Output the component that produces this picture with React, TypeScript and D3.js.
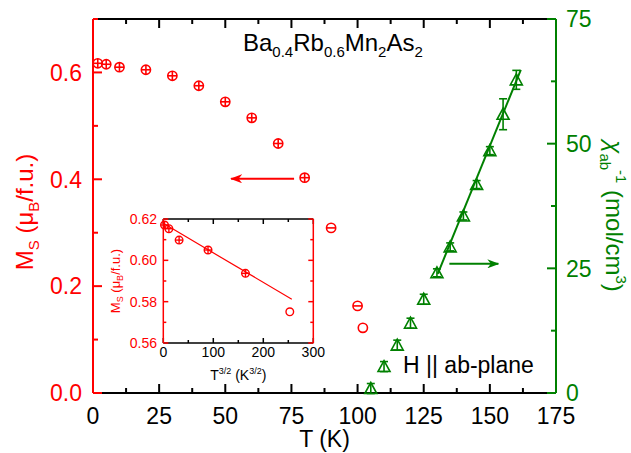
import React from 'react';
import * as d3 from 'd3';

// ---- data ----
const T_MS = [1.8, 5, 10, 20, 30, 40, 50, 60, 70, 80, 90, 100, 102];
const MS = [0.6171, 0.6153, 0.6098, 0.605, 0.5937, 0.5751, 0.545, 0.515, 0.467, 0.403, 0.309, 0.163, 0.122];
// marker inner style: 2 = cross, 1 = horizontal bar, 0 = plain
const MS_MARK = [2, 2, 2, 2, 2, 2, 2, 2, 2, 2, 1, 1, 0];
const INSET_MARK = [2, 2, 2, 2, 2, 0];
const INSET_COUNT = 6;

const T_CHI = [105, 110, 115, 120, 125, 130, 135, 140, 145, 150, 155, 160];
const CHI = [0.9, 5.3, 9.6, 14.0, 18.8, 24.1, 29.3, 35.5, 41.8, 48.6, 55.9, 62.8];
const CHI_ERR = [1, 1, 1, 1, 1, 0.8, 0.8, 0.8, 0.8, 0.8, 3.1, 1.9];

const FIT_T = [130.3, 161.7];
const FIT_CHI = [23.9, 64.8];

const INSET_FIT_X = [0, 257];
const INSET_FIT_Y = [0.6179, 0.5812];

const X_TICKS = [0, 25, 50, 75, 100, 125, 150, 175];
const X_MINOR = [12.5, 37.5, 62.5, 87.5, 112.5, 137.5, 162.5];
const MS_TICKS = [0, 0.2, 0.4, 0.6];
const MS_MINOR = [0.1, 0.3, 0.5, 0.7];
const CHI_TICKS = [0, 25, 50, 75];
const CHI_MINOR = [12.5, 37.5, 62.5];
const IX_TICKS = [0, 100, 200, 300];
const IX_MINOR = [50, 150, 250];
const IY_TICKS = [0.56, 0.58, 0.6, 0.62];
const IY_MINOR = [0.57, 0.59, 0.61];

const RED = '#ff0000';
const GREEN = '#008000';
const FONT = "'Liberation Sans', Arial, Helvetica, sans-serif";

export default function App() {
  const W = 631, H = 453;
  const x = d3.scaleLinear().domain([0, 175]).range([93, 556]);
  const yL = d3.scaleLinear().domain([0, 0.7]).range([393, 19]);
  const yR = d3.scaleLinear().domain([0, 75]).range([393, 19]);
  const ix = d3.scaleLinear().domain([0, 300]).range([163.3, 313.3]);
  const iy = d3.scaleLinear().domain([0.56, 0.62]).range([343, 219]);

  const [x0, x1] = x.range();
  const [yb, yt] = yL.range();
  const [ix0, ix1] = ix.range();
  const [iyb, iyt] = iy.range();

  const fitLine = d3.line<number>().x((d, i) => x(FIT_T[i])).y((d, i) => yR(FIT_CHI[i]));
  const insetFit = d3.line<number>().x((d, i) => ix(INSET_FIT_X[i])).y((d, i) => iy(INSET_FIT_Y[i]));

  const MAJ = 9, MIN = 5, IMAJ = 5, IMIN = 3;
  const fmt1 = d3.format('.1f');
  const fmt2 = d3.format('.2f');

  const circleMarker = (cx: number, cy: number, r: number, mark: number, key: string, sw: number) => (
    <g key={key} stroke={RED} strokeWidth={sw} fill="none">
      <circle cx={cx} cy={cy} r={r} />
      {mark >= 1 && <line x1={cx - r} x2={cx + r} y1={cy} y2={cy} />}
      {mark >= 2 && <line x1={cx} x2={cx} y1={cy - r} y2={cy + r} />}
    </g>
  );

  const insetPts = T_MS.slice(0, INSET_COUNT).map((t, i) => ({ xv: Math.pow(t, 1.5), yv: MS[i], m: INSET_MARK[i] }));

  return (
    <svg width={W} height={H} style={{ position: 'absolute', left: 0, top: 0, background: '#fff' }} fontFamily={FONT}>
      <rect x={0} y={0} width={W} height={H} fill="#fff" />

      {/* frame top & bottom (black) */}
      <g stroke="#000" strokeWidth={2}>
        <line x1={x0} x2={x1} y1={yt} y2={yt} />
        <line x1={x0} x2={x1} y1={yb} y2={yb} />
        {X_TICKS.map(t => (
          <g key={'xt' + t}>
            <line x1={x(t)} x2={x(t)} y1={yb} y2={yb - MAJ} />
            <line x1={x(t)} x2={x(t)} y1={yt} y2={yt + MAJ} />
          </g>
        ))}
        {X_MINOR.map(t => (
          <g key={'xm' + t}>
            <line x1={x(t)} x2={x(t)} y1={yb} y2={yb - MIN} />
            <line x1={x(t)} x2={x(t)} y1={yt} y2={yt + MIN} />
          </g>
        ))}
      </g>
      {X_TICKS.map(t => (
        <text key={'xl' + t} x={x(t)} y={yb + 31} fontSize={23} textAnchor="middle" fill="#000">{t}</text>
      ))}
      <text x={(x0 + x1) / 2} y={447} fontSize={23} textAnchor="middle" fill="#000">T (K)</text>

      {/* left axis (red) */}
      <g stroke={RED} strokeWidth={2}>
        <line x1={x0} x2={x0} y1={yb} y2={yt} />
        {MS_TICKS.map(t => <line key={'lt' + t} x1={x0} x2={x0 + MAJ} y1={yL(t)} y2={yL(t)} />)}
        {MS_MINOR.map(t => <line key={'lm' + t} x1={x0} x2={x0 + MIN} y1={yL(t)} y2={yL(t)} />)}
      </g>
      {MS_TICKS.map(t => (
        <text key={'ll' + t} x={82} y={yL(t)} dy="0.36em" fontSize={23} textAnchor="end" fill={RED}>{fmt1(t)}</text>
      ))}
      <text transform={`translate(33,${212}) rotate(-90)`} fontSize={24} textAnchor="middle" fill={RED}>
        M<tspan fontSize={15} dy={6}>S</tspan><tspan dy={-6}> (μ</tspan><tspan fontSize={15} dy={6}>B</tspan><tspan dy={-6}>/f.u.)</tspan>
      </text>

      {/* right axis (green) */}
      <g stroke={GREEN} strokeWidth={2}>
        <line x1={x1} x2={x1} y1={yb} y2={yt} />
        {CHI_TICKS.map(t => <line key={'rt' + t} x1={x1} x2={x1 - MAJ} y1={yR(t)} y2={yR(t)} />)}
        {CHI_MINOR.map(t => <line key={'rm' + t} x1={x1} x2={x1 - MIN} y1={yR(t)} y2={yR(t)} />)}
      </g>
      {CHI_TICKS.map(t => (
        <text key={'rl' + t} x={566} y={yR(t)} dy="0.36em" fontSize={23} textAnchor="start" fill={GREEN}>{t}</text>
      ))}
      <text transform={`translate(606,${216}) rotate(90)`} fontSize={24} textAnchor="middle" fill={GREEN}>
        <tspan fontStyle="italic">χ</tspan><tspan fontSize={15} dy={6}>ab</tspan><tspan fontSize={15} dy={-16}>-1</tspan><tspan dy={10}> (mol/cm</tspan><tspan fontSize={15} dy={-10}>3</tspan><tspan dy={10}>)</tspan>
      </text>

      {/* title and annotation */}
      <text x={243} y={51} fontSize={24} fill="#000">
        Ba<tspan fontSize={15} dy={6}>0.4</tspan><tspan dy={-6}>Rb</tspan><tspan fontSize={15} dy={6}>0.6</tspan><tspan dy={-6}>Mn</tspan><tspan fontSize={15} dy={6}>2</tspan><tspan dy={-6}>As</tspan><tspan fontSize={15} dy={6}>2</tspan>
      </text>
      <text x={403} y={373} fontSize={23} fill="#000">H || ab-plane</text>

      {/* arrows */}
      <defs>
        <marker id="ahR" viewBox="0 0 12 9" refX={11} refY={4.5} markerWidth={12} markerHeight={9} orient="auto" markerUnits="userSpaceOnUse">
          <path d="M0,0 L12,4.5 L0,9 L3.5,4.5 Z" fill={RED} />
        </marker>
        <marker id="ahG" viewBox="0 0 12 9" refX={11} refY={4.5} markerWidth={12} markerHeight={9} orient="auto" markerUnits="userSpaceOnUse">
          <path d="M0,0 L12,4.5 L0,9 L3.5,4.5 Z" fill={GREEN} />
        </marker>
      </defs>
      <line x1={x(76)} x2={x(52.2)} y1={yL(0.401)} y2={yL(0.401)} stroke={RED} strokeWidth={2} markerEnd="url(#ahR)" />
      <line x1={x(134.7)} x2={x(153.2)} y1={yR(25.9)} y2={yR(25.9)} stroke={GREEN} strokeWidth={2} markerEnd="url(#ahG)" />

      {/* Ms data */}
      {T_MS.map((t, i) => circleMarker(x(t), yL(MS[i]), 4.6, MS_MARK[i], 'ms' + i, 1.6))}

      {/* chi fit line */}
      <path d={fitLine(FIT_T) || ''} stroke={GREEN} strokeWidth={2} fill="none" />
      {/* chi data */}
      {T_CHI.map((t, i) => {
        const cx = x(t), cy = yR(CHI[i]);
        const e = yR(0) - yR(CHI_ERR[i]);
        return (
          <g key={'c' + i} stroke={GREEN} strokeWidth={1.6} fill="none">
            <path d={`M${cx - 6},${cy + 5} L${cx + 6},${cy + 5} L${cx},${cy - 6} Z`} />
            <line x1={cx} x2={cx} y1={cy - e} y2={cy + e} />
            <line x1={cx - 4} x2={cx + 4} y1={cy - e} y2={cy - e} />
            <line x1={cx - 4} x2={cx + 4} y1={cy + e} y2={cy + e} />
          </g>
        );
      })}

      {/* inset */}
      <rect x={ix0} y={iyt} width={ix1 - ix0} height={iyb - iyt} fill="#fff" />
      <g stroke="#000" strokeWidth={1.5}>
        <line x1={ix0} x2={ix1} y1={iyt} y2={iyt} />
        <line x1={ix0} x2={ix1} y1={iyb} y2={iyb} />
        {IX_TICKS.map(t => (
          <g key={'ixt' + t}>
            <line x1={ix(t)} x2={ix(t)} y1={iyb} y2={iyb - IMAJ} />
            <line x1={ix(t)} x2={ix(t)} y1={iyt} y2={iyt + IMAJ} />
          </g>
        ))}
        {IX_MINOR.map(t => (
          <g key={'ixm' + t}>
            <line x1={ix(t)} x2={ix(t)} y1={iyb} y2={iyb - IMIN} />
            <line x1={ix(t)} x2={ix(t)} y1={iyt} y2={iyt + IMIN} />
          </g>
        ))}
      </g>
      <g stroke={RED} strokeWidth={1.5}>
        <line x1={ix0} x2={ix0} y1={iyb} y2={iyt} />
        <line x1={ix1} x2={ix1} y1={iyb} y2={iyt} />
        {IY_TICKS.map(t => (
          <g key={'iyt' + t}>
            <line x1={ix0} x2={ix0 + IMAJ} y1={iy(t)} y2={iy(t)} />
            <line x1={ix1} x2={ix1 - IMAJ} y1={iy(t)} y2={iy(t)} />
          </g>
        ))}
        {IY_MINOR.map(t => (
          <g key={'iym' + t}>
            <line x1={ix0} x2={ix0 + IMIN} y1={iy(t)} y2={iy(t)} />
            <line x1={ix1} x2={ix1 - IMIN} y1={iy(t)} y2={iy(t)} />
          </g>
        ))}
      </g>
      {IX_TICKS.map(t => (
        <text key={'ixl' + t} x={ix(t)} y={357} fontSize={14} textAnchor="middle" fill="#000">{t}</text>
      ))}
      {IY_TICKS.map(t => (
        <text key={'iyl' + t} x={157} y={iy(t)} dy="0.36em" fontSize={14} textAnchor="end" fill={RED}>{fmt2(t)}</text>
      ))}
      <text x={(ix0 + ix1) / 2} y={380} fontSize={14} textAnchor="middle" fill="#000">
        T<tspan fontSize={9} dy={-6}>3/2</tspan><tspan dy={6}> (K</tspan><tspan fontSize={9} dy={-6}>3/2</tspan><tspan dy={6}>)</tspan>
      </text>
      <text transform={`translate(120,${281}) rotate(-90)`} fontSize={13} textAnchor="middle" fill={RED}>
        M<tspan fontSize={9} dy={3}>S</tspan><tspan dy={-3}> (μ</tspan><tspan fontSize={9} dy={3}>B</tspan><tspan dy={-3}>/f.u.)</tspan>
      </text>
      <path d={insetFit(INSET_FIT_X) || ''} stroke={RED} strokeWidth={1.2} fill="none" />
      {insetPts.map((p, i) => circleMarker(ix(p.xv), iy(p.yv), 3.8, p.m, 'in' + i, 1.4))}
    </svg>
  );
}
